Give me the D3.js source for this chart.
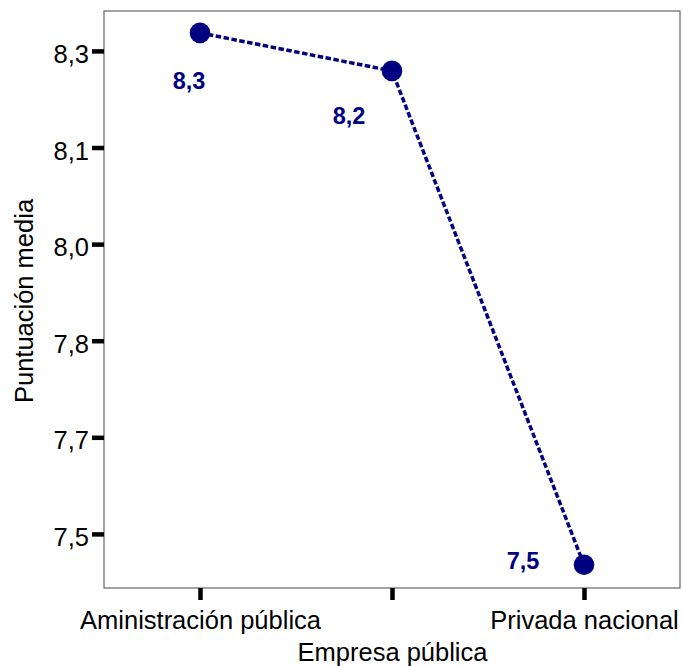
<!DOCTYPE html>
<html><head><meta charset="utf-8">
<script src="https://cdn.jsdelivr.net/npm/d3@7"></script>
<style>
body{margin:0;background:#fff;}
svg{display:block;font-family:"Liberation Sans",Arial,sans-serif;}
</style></head>
<body><svg id="c" width="683" height="666"></svg>
<script>
const categories = ["Aministración pública", "Empresa pública", "Privada nacional"];
const values = [8.278, 8.219, 7.452];
const valueLabels = ["8,3", "8,2", "7,5"];
const yTicks = [7.5, 7.65, 7.8, 7.95, 8.1, 8.25];
const yTickLabels = ["7,5", "7,7", "7,8", "8,0", "8,1", "8,3"];
const yTitle = "Puntuación media";

const svg = d3.select("#c");
const L = 104, R = 680, T = 11, B = 588;
const navy = "#000080";

const x = d3.scalePoint().domain(categories).range([L, R]).padding(0.5);
const y = d3.scaleLinear().domain([7.416, 8.312]).range([B, T]);

// frame
svg.append("rect").attr("x", L).attr("y", T).attr("width", R - L).attr("height", B - T)
  .attr("fill", "none").attr("stroke", "#666").attr("stroke-width", 1.2);

// y axis
const yAxis = d3.axisLeft(y).tickValues(yTicks).tickSize(12)
  .tickFormat((d, i) => yTickLabels[i]);
const gy = svg.append("g").attr("transform", `translate(${L},0)`).call(yAxis);
gy.select(".domain").remove();
gy.selectAll(".tick line").attr("stroke", "#000").attr("stroke-width", 4.5);
gy.selectAll(".tick text").attr("x", -15).attr("dy", "0.45em")
  .attr("font-size", 25.5).attr("fill", "#000").attr("font-family", "Liberation Sans, Arial, sans-serif");

// x axis
const xAxis = d3.axisBottom(x).tickSize(12);
const gx = svg.append("g").attr("transform", `translate(0,${B})`).call(xAxis);
gx.select(".domain").remove();
gx.selectAll(".tick line").attr("stroke", "#000").attr("stroke-width", 4.5);
gx.selectAll(".tick text").attr("y", (d, i) => i % 2 === 1 ? 73 : 41).attr("dy", 0)
  .attr("font-size", 25.5).attr("fill", "#000").attr("font-family", "Liberation Sans, Arial, sans-serif");

// y title
svg.append("text").attr("transform", `translate(33,301) rotate(-90)`)
  .attr("text-anchor", "middle").attr("font-size", 25.5).attr("fill", "#000")
  .text(yTitle);

// line
const line = d3.line().x((d, i) => x(categories[i])).y(d => y(d));
svg.append("path").datum(values).attr("d", line)
  .attr("fill", "none").attr("stroke", navy).attr("stroke-width", 3.5)
  .attr("stroke-dasharray", "5.5,2.5");

// points
svg.selectAll("circle.pt").data(values).join("circle").attr("class", "pt")
  .attr("cx", (d, i) => x(categories[i])).attr("cy", d => y(d)).attr("r", 10.3)
  .attr("fill", navy);

// value labels (placement offsets, style only)
const off = [[-11, 56], [-43, 53], [-61, 4]];
svg.selectAll("text.vl").data(values).join("text").attr("class", "vl")
  .attr("x", (d, i) => x(categories[i]) + off[i][0])
  .attr("y", (d, i) => y(d) + off[i][1])
  .attr("text-anchor", "middle").attr("font-size", 23.5).attr("font-weight", "bold")
  .attr("fill", navy).text((d, i) => valueLabels[i]);
</script></body></html>
